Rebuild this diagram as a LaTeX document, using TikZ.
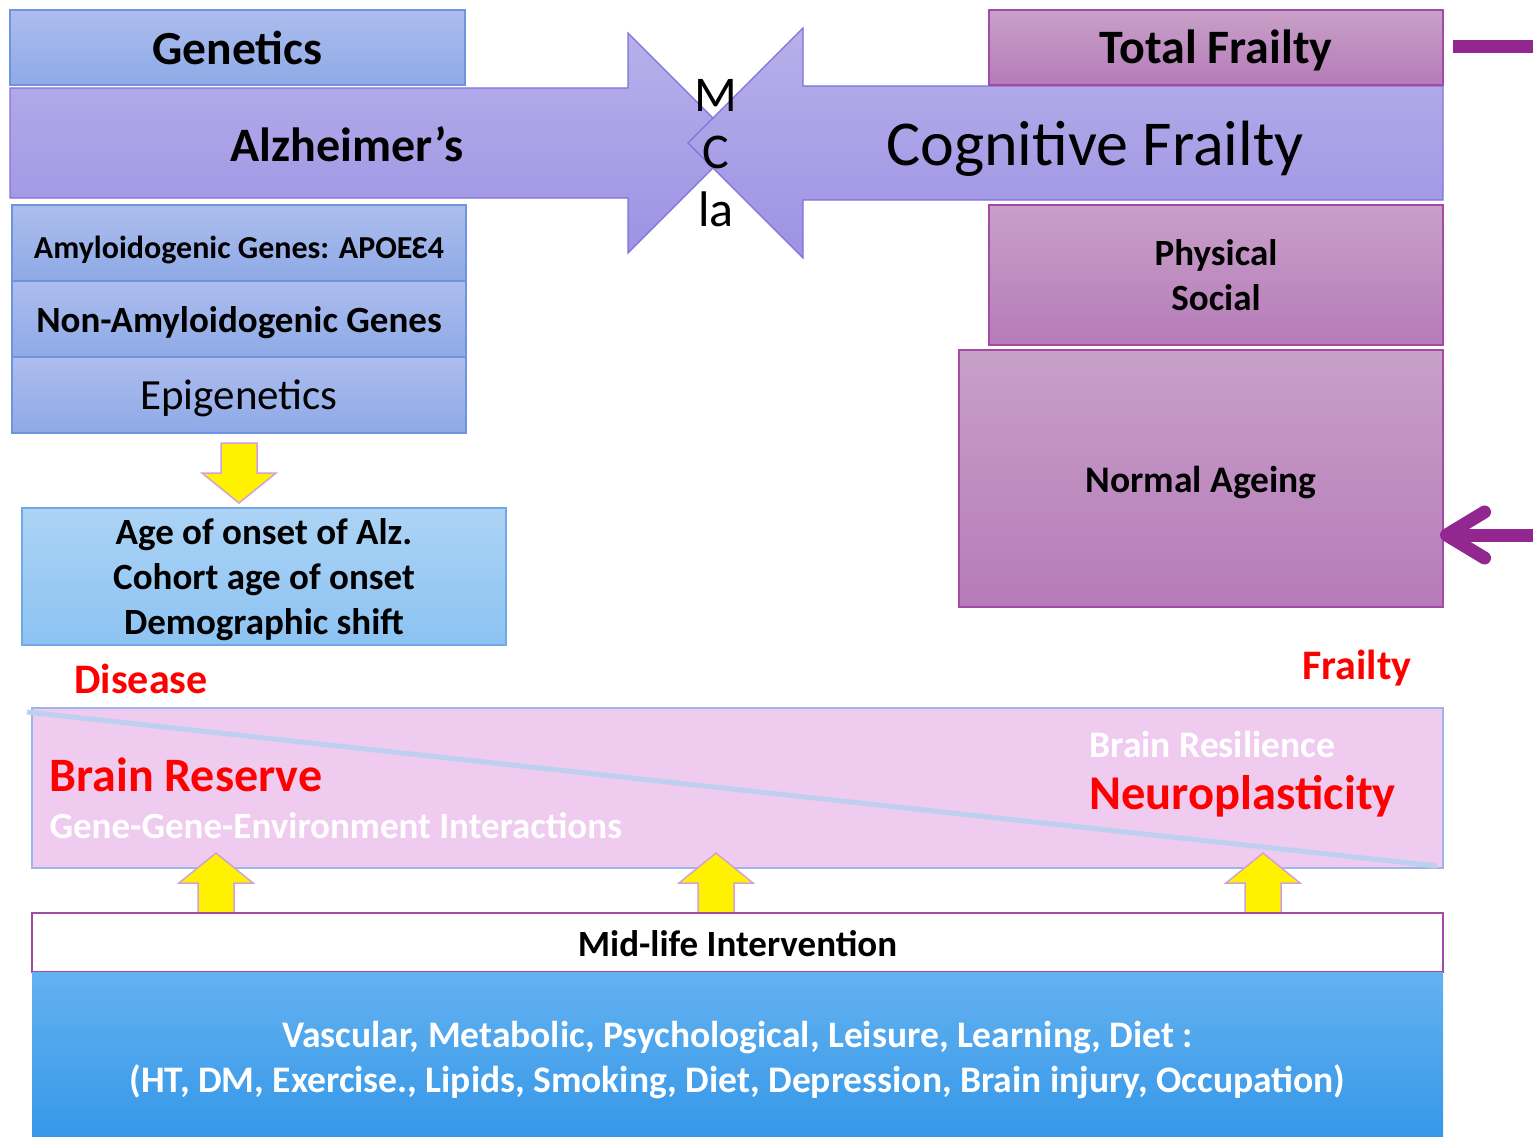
\documentclass[tikz,border=0pt]{standalone}
\usepackage{fontspec}
\setmainfont{Carlito}
\usetikzlibrary{shapes,arrows.meta,positioning,calc}

\definecolor{gentop}{HTML}{ADBDEE}
\definecolor{genbot}{HTML}{8EAAE6}
\definecolor{genline}{HTML}{6F93DE}
\definecolor{lavtop}{HTML}{B7B0EA}
\definecolor{lavbot}{HTML}{9D92E4}
\definecolor{lavline}{HTML}{7F73D9}
\definecolor{purtop}{HTML}{C8A0C8}
\definecolor{purbot}{HTML}{B67BB9}
\definecolor{purline}{HTML}{A24AA6}
\definecolor{skytop}{HTML}{ACD3F4}
\definecolor{skybot}{HTML}{8CC3F3}
\definecolor{skyline}{HTML}{70A8E8}
\definecolor{pinkfill}{HTML}{F0CBF0}
\definecolor{pinkline}{HTML}{9DB5EA}
\definecolor{slope}{HTML}{BDD0F0}
\definecolor{deeptop}{HTML}{64B2F0}
\definecolor{deepbot}{HTML}{3597E8}
\definecolor{yedge}{HTML}{D4A0D8}
\definecolor{violet}{HTML}{92278F}

\newcommand{\fsz}[2]{\fontsize{#1}{#2}\selectfont}

\begin{document}
\begin{tikzpicture}[x=1pt,y=-1pt,
    box/.style={rectangle,draw,line width=1.2pt,inner sep=0pt,outer sep=0pt,anchor=north west},
    bluebox/.style={box,draw=genline,top color=gentop,bottom color=genbot},
    purbox/.style={box,draw=purline,top color=purtop,bottom color=purbot},
    bigarrow/.style={draw=lavline,line width=1.2pt,top color=lavtop,bottom color=lavbot},
    yarrow/.style={draw=yedge,line width=1.5pt,fill=yellow},
    redtxt/.style={text=red,font=\bfseries\fsz{42}{48}}]
    \useasboundingbox (0,0) rectangle (1533,1137);

    % Genetics side
    \node[bluebox,minimum width=455,minimum height=75] (genetics) at (10,10) {};
    \node[bluebox,minimum width=454,minimum height=76] (amyloid) at (12,205) {};
    \node[bluebox,minimum width=454,minimum height=76] (nonamyloid) at (12,281) {};
    \node[bluebox,minimum width=454,minimum height=76] (epigen) at (12,357) {};
    \node[font=\bfseries\fsz{47.5}{54}] (genetics-t) at (genetics.center) {Genetics};
    \node[font=\bfseries\fsz{32}{38}] (amyloid-t) at ([yshift=-7pt]amyloid.center) {Amyloidogenic Genes: APOEƐ4};
    \node[font=\bfseries\fsz{37}{44}] (nonamyloid-t) at ([yshift=-4pt]nonamyloid.center) {Non-Amyloidogenic Genes};
    \node[font=\fsz{43}{50}] (epigen-t) at ([yshift=-3pt]epigen.center) {Epigenetics};

    % the two big arrows
    \path[bigarrow] (10,88) -- (628,88) -- (628,33) -- (738,143) -- (628,253) -- (628,198) -- (10,198) -- cycle;
    \path[bigarrow] (1443,86) -- (803,86) -- (803,28) -- (688,143) -- (803,258) -- (803,200) -- (1443,200) -- cycle;
    \node[font=\bfseries\fsz{48}{54}] (alz) at (347,144) {Alzheimer’s};
    \node[font=\fsz{64}{72}] (cogfrail) at (1095,149) {Cognitive Frailty};
    \node[align=center,font=\fsz{50}{57.5}] (mcla) at (716,153) {M\\C\\la};

    % Frailty side
    \node[purbox,minimum width=454,minimum height=75] (totfrail) at (989,10) {};
    \node[purbox,minimum width=454,minimum height=140] (physoc) at (989,205) {};
    \node[purbox,minimum width=484,minimum height=257] (ageing) at (959,350) {};
    \node[font=\bfseries\fsz{48}{54}] (totfrail-t) at ([yshift=-3pt]totfrail.center) {Total Frailty};
    \node[align=center,font=\bfseries\fsz{37}{45}] (physoc-t) at (physoc.center) {Physical\\Social};
    \node[font=\bfseries\fsz{37.5}{44}] (ageing-t) at ([yshift=-4pt]ageing.center) {Normal Ageing};
    \coordinate (barstart) at (1453,47);
    \coordinate (barend) at (1533,47);
    \draw[violet,line width=13pt] (barstart) -- (barend);
    \coordinate (arrowstart) at (1533,535);
    \draw[violet,line width=13pt,-{Straight Barb[length=38pt,width=46pt,line cap=round,line join=round]}]
        (arrowstart) -- ($(ageing.east |- arrowstart)+(-3,0)$);

    % down arrow and onset box
    \draw[yarrow] (221,443) -- (257,443) -- (257,473) -- (276,473) -- (239,503) -- (202,473) -- (221,473) -- cycle;
    \node[box,draw=skyline,top color=skytop,bottom color=skybot,minimum width=484,minimum height=137] (onset) at (22,508) {};
    \node[align=center,font=\bfseries\fsz{37}{45}] (onset-t) at ([yshift=-3pt]onset.center)
        {Age of onset of Alz.\\Cohort age of onset\\Demographic shift};

    \node[redtxt] (disease) at (141,679) {Disease};
    \node[redtxt] (frailty) at (1357,668) {Frailty};

    % reserve / resilience band
    \node[box,draw=pinkline,fill=pinkfill,minimum width=1411,minimum height=160] (band) at (32,708) {};
    \draw[slope,line width=5pt] (27,712) -- (1437,866);
    \node[anchor=west,text=red,font=\bfseries\fsz{48}{54}] (reserve) at (46,775) {Brain Reserve};
    \node[anchor=west,text=white,font=\bfseries\fsz{37}{44}] (genenv) at (46,826) {Gene-Gene-Environment Interactions};
    \node[anchor=west,text=white,font=\bfseries\fsz{37.5}{44}] (resil) at (1086,744) {Brain Resilience};
    \node[anchor=west,text=red,font=\bfseries\fsz{48.5}{54}] (neuro) at (1086,796) {Neuroplasticity};

    % up arrows
    \foreach \x in {216,716,1263} {
        \draw[yarrow] (\x-18,913) -- (\x-18,883) -- (\x-37,883) -- (\x,853) -- (\x+37,883) -- (\x+18,883) -- (\x+18,913) -- cycle;
    }

    % intervention and factors
    \node[box,draw=purline,fill=white,minimum width=1411,minimum height=59] (midlife) at (32,913) {};
    \node[font=\bfseries\fsz{37}{44}] (midlife-t) at ([yshift=-1pt]midlife.center) {Mid-life Intervention};
    \node[box,draw=none,top color=deeptop,bottom color=deepbot,minimum width=1411,minimum height=165] (factors) at (32,972) {};
    \node[align=center,text=white,font=\bfseries\fsz{37.5}{45}] (factors-t) at ([yshift=-6pt]factors.center)
        {Vascular, Metabolic, Psychological, Leisure, Learning, Diet :\\(HT, DM, Exercise., Lipids, Smoking, Diet, Depression, Brain injury, Occupation)};
\end{tikzpicture}
\end{document}
